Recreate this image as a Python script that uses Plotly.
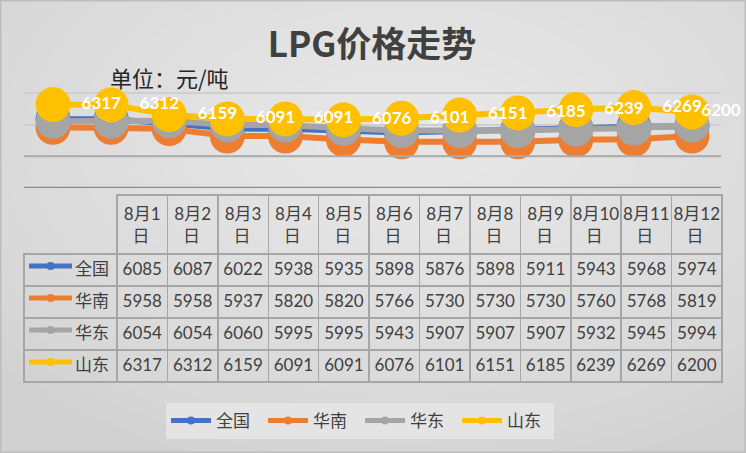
import plotly.graph_objects as go

dates = ["8月1日", "8月2日", "8月3日", "8月4日", "8月5日", "8月6日",
         "8月7日", "8月8日", "8月9日", "8月10日", "8月11日", "8月12日"]
quanguo = [6085, 6087, 6022, 5938, 5935, 5898, 5876, 5898, 5911, 5943, 5968, 5974]
huanan = [5958, 5958, 5937, 5820, 5820, 5766, 5730, 5730, 5730, 5760, 5768, 5819]
huadong = [6054, 6054, 6060, 5995, 5995, 5943, 5907, 5907, 5907, 5932, 5945, 5994]
shandong = [6317, 6312, 6159, 6091, 6091, 6076, 6101, 6151, 6185, 6239, 6269, 6200]

names = ["全国", "华南", "华东", "山东"]
series = [quanguo, huanan, huadong, shandong]
colors = ["#4472C4", "#ED7D31", "#A5A5A5", "#FFC000"]

W, H = 746, 453
FONT = "Lato, Noto Sans CJK SC, sans-serif"
TXT = "#404040"

idx = list(range(len(dates)))

fig = go.Figure()

# main lines (big round markers, Excel style)
for name, vals, c in zip(names, series, colors):
    fig.add_trace(go.Scatter(
        x=idx, y=vals, mode="lines+markers", name=name,
        line=dict(color=c, width=6),
        marker=dict(color=c, size=35),
        showlegend=False, cliponaxis=False,
    ))

# data labels of 山东 sit to the right of each point, kept inside the plot
label_x = [min(i + 0.83, len(dates) - 0.5) for i in idx]
fig.add_trace(go.Scatter(
    x=label_x, y=shandong, mode="text",
    text=[str(v) for v in shandong],
    textfont=dict(family="Lato, sans-serif", size=17, color="white", weight="bold"),
    showlegend=False, cliponaxis=False, hoverinfo="skip",
))

# legend entries with small markers
for name, c in zip(names, colors):
    fig.add_trace(go.Scatter(
        x=[None], y=[None], mode="lines+markers", name=name,
        line=dict(color=c, width=5), marker=dict(color=c, size=8),
    ))


def head(d):
    # split "8月1日" into two lines, nudging "日" under the middle
    top = d[:-1]
    pad = "\u00a0" * (2 if len(top) == 3 else 3)
    return top + "<br>" + pad + "日"


# data table under the chart
header_vals = [""] + [head(d) for d in dates]
cell_vals = [names] + [[s[i] for s in series] for i in idx]
fig.add_trace(go.Table(
    domain=dict(x=[24 / W, 722 / W], y=[1 - 386 / H, 1 - 195 / H]),
    columnwidth=[93] + [50.4] * len(dates),
    header=dict(
        values=header_vals, height=50,
        align="center",
        font=dict(family=FONT, size=17, color=TXT),
        fill=dict(color="rgba(0,0,0,0)"),
        line=dict(color=["rgba(0,0,0,0)"] + ["#a6a6a6"] * len(dates), width=1.5),
    ),
    cells=dict(
        values=cell_vals, height=32,
        align=["right"] + ["center"] * len(dates),
        font=dict(family=FONT, size=17, color=TXT),
        fill=dict(color="rgba(0,0,0,0)"),
        line=dict(color="#a6a6a6", width=1.5),
    ),
))

shapes = []
# soft radial background
for k in range(18):
    rx = 540 - k * 26
    ry = 340 - k * 17
    cx, cy = 410, 140
    shapes.append(dict(type="circle", xref="paper", yref="paper", layer="below",
                       x0=(cx - rx) / W, x1=(cx + rx) / W,
                       y0=1 - (cy + ry) / H, y1=1 - (cy - ry) / H,
                       fillcolor="rgba(255,255,255,0.048)", line=dict(width=0)))
# darker lower gridline and axis line
shapes.append(dict(type="line", xref="x domain", yref="y", x0=0, x1=1, y0=5500, y1=5500,
                   line=dict(color="#ababab", width=2)))
shapes.append(dict(type="line", xref="x domain", yref="y", x0=0, x1=1, y0=5000, y1=5000,
                   line=dict(color="#8c8c8c", width=2.5)))
# legend keys inside the table's row headers
for i, c in enumerate(colors):
    yc = 1 - (250 + 32 * i + 16) / H
    shapes.append(dict(type="line", xref="paper", yref="paper",
                       x0=29 / W, x1=72 / W, y0=yc, y1=yc,
                       line=dict(color=c, width=5)))
    shapes.append(dict(type="circle", xref="paper", yref="paper",
                       x0=46.5 / W, x1=54.5 / W, y0=yc - 4 / H, y1=yc + 4 / H,
                       fillcolor=c, line=dict(width=0)))
# outer frame
shapes.append(dict(type="rect", xref="paper", yref="paper", x0=0, x1=1, y0=0, y1=1,
                   line=dict(color="#bdbdbd", width=3)))

fig.update_layout(
    width=W, height=H,
    margin=dict(l=0, r=0, t=0, b=0),
    paper_bgcolor="#d1d1d1",
    plot_bgcolor="rgba(0,0,0,0)",
    font=dict(family=FONT, color=TXT),
    title=dict(text="LPG价格走势", x=372 / W, xanchor="center", y=1 - 45 / H, yanchor="middle",
               font=dict(family="Noto Sans CJK SC", size=35, color="#404040", weight="bold")),
    xaxis=dict(domain=[24 / W, 721 / W], range=[-0.5, len(dates) - 0.5],
               showticklabels=False, showgrid=False, zeroline=False, showline=False),
    yaxis=dict(domain=[1 - 188 / H, 1 - 80 / H], range=[5000, 6705], dtick=500, tick0=5000,
               showticklabels=False, gridcolor="#cfcfcf", gridwidth=1.5, zeroline=False),
    legend=dict(orientation="h", x=360 / W, xanchor="center", y=1 - 421 / H, yanchor="middle",
                bgcolor="#e4e4e4", font=dict(family=FONT, size=17, color=TXT),
                itemwidth=40, entrywidth=42, entrywidthmode="pixels"),
    annotations=[dict(text="单位：元/吨", xref="paper", yref="paper",
                      x=108 / W, xanchor="left", y=1 - 77 / H, yanchor="middle",
                      showarrow=False, font=dict(family="Noto Sans CJK SC", size=22, color="#262626"))],
    shapes=shapes,
)

# the page's default body margin would push the fixed-size figure off its window
fig.write_html("out.html", config={"displayModeBar": False},
               post_script="document.body.style.margin='0';")
